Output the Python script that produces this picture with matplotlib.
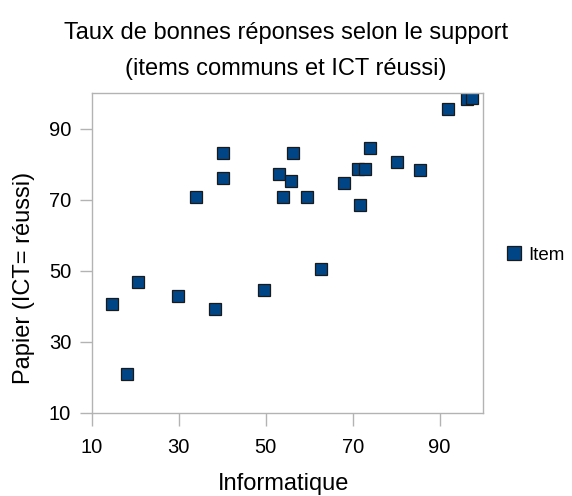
import matplotlib
matplotlib.use("Agg")
import matplotlib.pyplot as plt
from matplotlib.lines import Line2D

plt.rcParams['font.family'] = ['Liberation Sans', 'DejaVu Sans']

informatique = [14.6, 18.1, 20.6, 29.9, 34.0, 38.4, 40.2, 40.2, 49.7, 53.1, 54.0, 55.9,
                56.2, 59.6, 62.6, 68.1, 71.3, 71.8, 72.8, 74.1, 80.1, 85.4, 92.0, 96.4, 97.5]
papier = [40.7, 20.9, 46.9, 43.0, 70.8, 39.3, 76.1, 83.0, 44.6, 77.3, 70.8, 75.2,
          83.0, 70.8, 50.6, 74.6, 78.5, 68.6, 78.5, 84.6, 80.6, 78.3, 95.6, 98.4, 98.5]
series_name = "Item"
xticks = [10, 30, 50, 70, 90]
yticks = [10, 30, 50, 70, 90]

W, H = 572, 496
fig = plt.figure(figsize=(W/100, H/100), dpi=100)
ax = fig.add_axes([92/W, 1-413/H, (483-92)/W, (413-93)/H])

color = '#004586'
ax.plot(informatique, papier, linestyle='none', marker='s', markersize=8.5,
        markerfacecolor=color, markeredgecolor='#1a1a1a', markeredgewidth=0.9)

ax.set_xlim(10, 100)
ax.set_ylim(10, 100)
ax.set_xticks(xticks)
ax.set_yticks(yticks)
for s in ax.spines.values():
    s.set_color('#b3b3b3')
    s.set_linewidth(1)
ax.tick_params(axis='both', direction='out', length=9, width=1, color='#b3b3b3',
               labelsize=14.5, labelcolor='black', pad=6)
ax.tick_params(axis='x', pad=9)

fig.text(284/W, 1-490/H, 'Informatique', ha='center', va='baseline', fontsize=17)
fig.text(24/W, 1-278/H, 'Papier (ICT= réussi)', ha='center', va='center',
         rotation=90, fontsize=17)

fig.text(0.5, 1-33/H, 'Taux de bonnes réponses selon le support', ha='center', va='center', fontsize=17)
fig.text(0.5, 1-69/H, '(items communs et ICT réussi)', ha='center', va='center', fontsize=17)

handle = Line2D([], [], linestyle='none', marker='s', markersize=10,
                markerfacecolor=color, markeredgecolor='#1a1a1a', markeredgewidth=0.9)
fig.legend([handle], [series_name], loc='center left', bbox_to_anchor=(506/W, 1-255/H),
           frameon=False, fontsize=13.5, handlelength=0.8, handletextpad=0.4, borderpad=0,
           borderaxespad=0)

fig.savefig('out.png', dpi=100)
